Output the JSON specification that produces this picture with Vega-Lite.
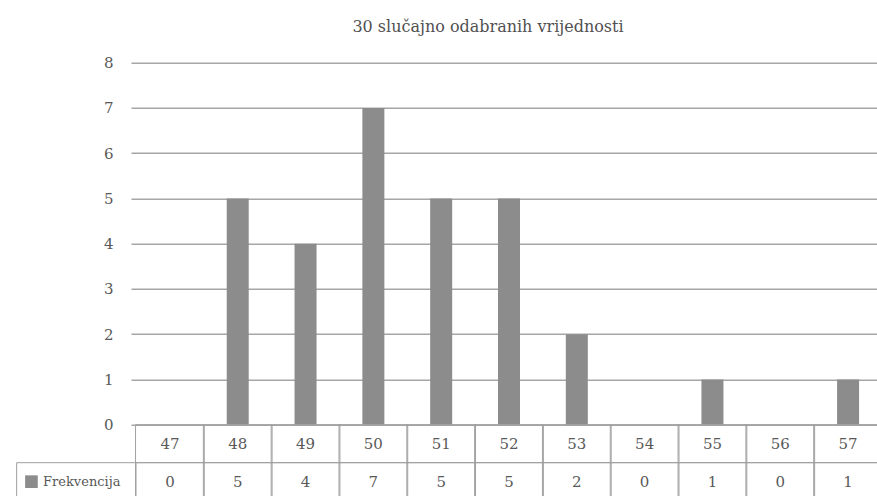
{
  "$schema": "https://vega.github.io/schema/vega-lite/v6.json",
  "autosize": {"type": "none"},
  "padding": {"left": 10, "top": 62.7, "right": 0, "bottom": 0},
  "width": 877,
  "height": 438,
  "background": "white",
  "title": {
    "text": "30 slučajno odabranih vrijednosti",
    "font": "DejaVu Serif",
    "fontSize": 16,
    "fontWeight": "normal",
    "color": "#505050",
    "anchor": "middle",
    "dx": 39.5,
    "offset": 21
  },
  "datasets": {
    "freq": [
      {"v": 47, "f": 0},
      {"v": 48, "f": 5},
      {"v": 49, "f": 4},
      {"v": 50, "f": 7},
      {"v": 51, "f": 5},
      {"v": 52, "f": 5},
      {"v": 53, "f": 2},
      {"v": 54, "f": 0},
      {"v": 55, "f": 1},
      {"v": 56, "f": 0},
      {"v": 57, "f": 1}
    ],
    "hdr": [{"label": "Frekvencija"}]
  },
  "layer": [
    {
      "data": {"name": "freq"},
      "mark": {"type": "bar", "width": 22, "color": "#8c8c8c"},
      "encoding": {
        "x": {
          "field": "v",
          "type": "quantitative",
          "scale": {"domain": [46.5, 57.5], "range": [121, 877], "nice": false, "zero": false},
          "axis": null
        },
        "y": {
          "field": "f",
          "type": "quantitative",
          "scale": {"domain": [-1.68, 8], "nice": false, "zero": false},
          "axis": {
            "values": [0, 1, 2, 3, 4, 5, 6, 7, 8],
            "grid": true,
            "gridColor": "#a6a6a6",
            "gridWidth": 1.5,
            "domain": false,
            "ticks": false,
            "offset": -121,
            "labelPadding": 18,
            "labelFont": "DejaVu Serif",
            "labelFontSize": 15,
            "labelColor": "#595959",
            "title": null
          }
        }
      }
    },
    {
      "data": {"name": "freq"},
      "mark": {"type": "bar", "width": 68.73, "fill": "transparent", "stroke": "#a0a0a0", "strokeWidth": 1},
      "encoding": {
        "x": {"field": "v", "type": "quantitative"},
        "y": {"datum": 0, "type": "quantitative"},
        "y2": {"datum": -0.84}
      }
    },
    {
      "data": {"name": "freq"},
      "mark": {"type": "bar", "width": 68.73, "fill": "transparent", "stroke": "#a0a0a0", "strokeWidth": 1},
      "encoding": {
        "x": {"field": "v", "type": "quantitative"},
        "y": {"datum": -0.84, "type": "quantitative"},
        "y2": {"datum": -1.68}
      }
    },
    {
      "data": {"name": "freq"},
      "mark": {"type": "text", "font": "DejaVu Serif", "fontSize": 15, "color": "#595959", "baseline": "middle", "align": "center"},
      "encoding": {
        "x": {"field": "v", "type": "quantitative"},
        "y": {"datum": -0.42, "type": "quantitative"},
        "text": {"field": "v", "type": "nominal"}
      }
    },
    {
      "data": {"name": "freq"},
      "mark": {"type": "text", "font": "DejaVu Serif", "fontSize": 15, "color": "#595959", "baseline": "middle", "align": "center"},
      "encoding": {
        "x": {"field": "v", "type": "quantitative"},
        "y": {"datum": -1.26, "type": "quantitative"},
        "text": {"field": "f", "type": "nominal"}
      }
    },
    {
      "data": {"name": "hdr"},
      "mark": {"type": "rect", "fill": "transparent", "stroke": "#a0a0a0", "strokeWidth": 1},
      "encoding": {
        "x": {"datum": 44.74, "type": "quantitative"},
        "x2": {"datum": 46.5},
        "y": {"datum": -0.84, "type": "quantitative"},
        "y2": {"datum": -1.68}
      }
    },
    {
      "data": {"name": "hdr"},
      "mark": {"type": "point", "shape": "square", "filled": true, "size": 160, "color": "#8c8c8c", "opacity": 1},
      "encoding": {
        "x": {"datum": 44.958, "type": "quantitative"},
        "y": {"datum": -1.26, "type": "quantitative"}
      }
    },
    {
      "data": {"name": "hdr"},
      "mark": {"type": "text", "font": "DejaVu Serif", "fontSize": 13, "color": "#595959", "baseline": "middle", "align": "left"},
      "encoding": {
        "x": {"datum": 45.13, "type": "quantitative"},
        "y": {"datum": -1.26, "type": "quantitative"},
        "text": {"field": "label", "type": "nominal"}
      }
    }
  ],
  "config": {
    "view": {"stroke": null}
  }
}
